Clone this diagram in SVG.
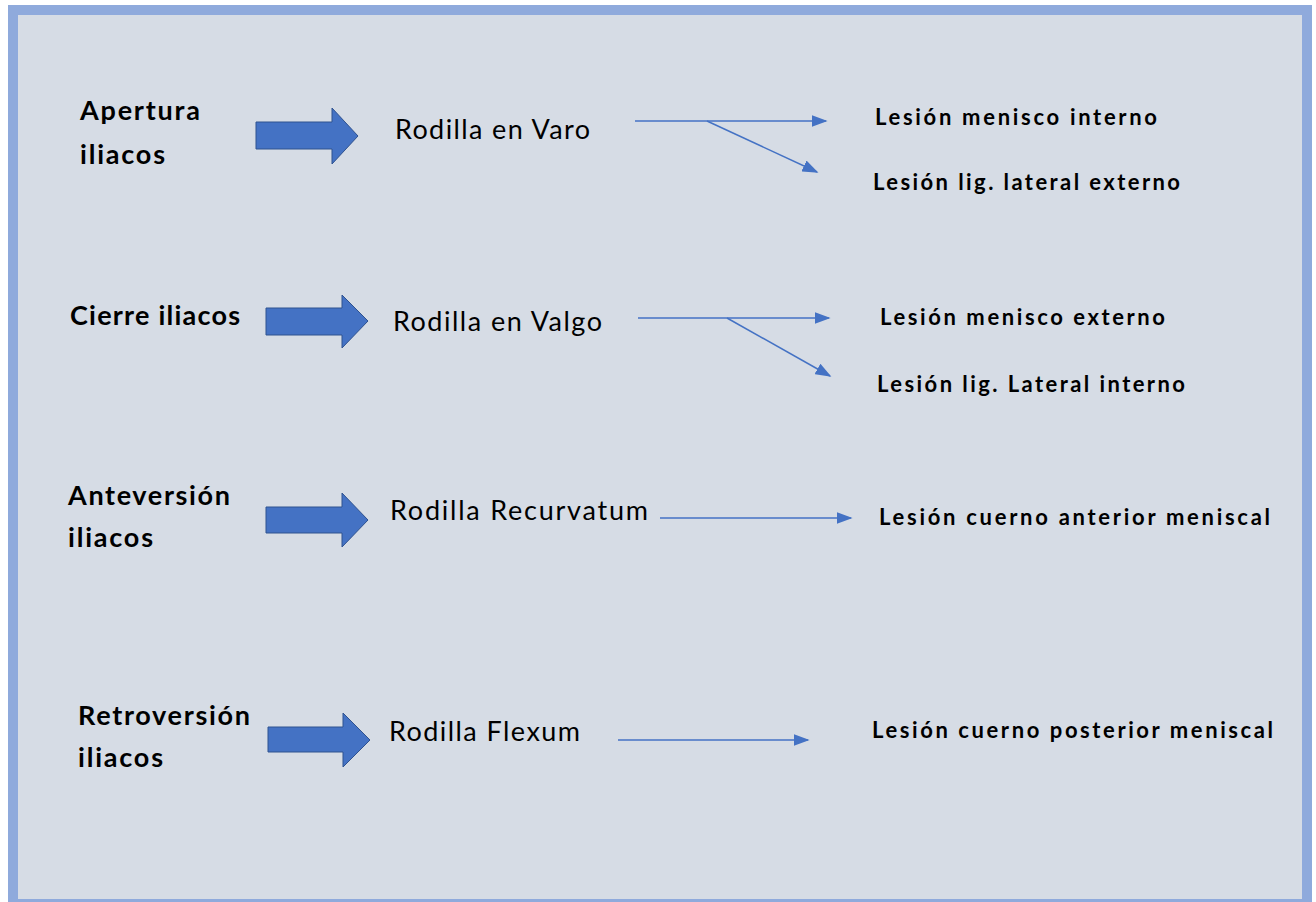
<svg xmlns="http://www.w3.org/2000/svg" width="1316" height="902" viewBox="0 0 1316 902">
<defs>
<style>
.lbl{font-family:Lato,"Liberation Sans",sans-serif;font-weight:bold;font-size:27px;fill:#000}
.mid{font-family:Lato,"Liberation Sans",sans-serif;font-size:27px;fill:#000}
.les{font-family:Lato,"Liberation Sans",sans-serif;font-weight:bold;font-size:22px;fill:#000}
.blk{fill:#4472c4;stroke:#2f528f;stroke-width:1}
.con{stroke:#4472c4;stroke-width:1.5;fill:none;marker-end:url(#ah)}
</style>
<marker id="ah" viewBox="0 0 10 10" refX="9" refY="5" markerWidth="16" markerHeight="12" markerUnits="userSpaceOnUse" orient="auto" preserveAspectRatio="none">
<path d="M0,0 L10,5 L0,10 Z" fill="#4472c4"/>
</marker>
</defs>
<rect x="13" y="10" width="1294" height="894" fill="#d6dce5" stroke="#8faadc" stroke-width="10"/>

<g id="n-apertura">
<text class="lbl" x="80" y="120" textLength="120">Apertura</text>
<text class="lbl" x="80" y="164" textLength="85">iliacos</text>
</g>
<g id="b-1"><path class="blk" d="M256,122 H332 V108 L358,136 L332,164 V149 H256 Z"/></g>
<g id="n-varo"><text class="mid" x="395" y="139" textLength="195">Rodilla en Varo</text></g>
<g id="n-mi"><text class="les" x="875" y="125" textLength="282">Lesión menisco interno</text></g>
<g id="n-lle"><text class="les" x="873" y="190" textLength="307">Lesión lig. lateral externo</text></g>

<g id="n-cierre"><text class="lbl" x="70" y="325" textLength="170">Cierre iliacos</text></g>
<g id="b-2"><path class="blk" d="M266,308 H342 V295 L368,321 L342,348 V335 H266 Z"/></g>
<g id="n-valgo"><text class="mid" x="393" y="331" textLength="209">Rodilla en Valgo</text></g>
<g id="n-me"><text class="les" x="880" y="325" textLength="285">Lesión menisco externo</text></g>
<g id="n-lli"><text class="les" x="877" y="392" textLength="308">Lesión lig. Lateral interno</text></g>

<g id="n-ante">
<text class="lbl" x="68" y="505" textLength="162">Anteversión</text>
<text class="lbl" x="68" y="547" textLength="85">iliacos</text>
</g>
<g id="b-3"><path class="blk" d="M266,507 H342 V493 L368,520 L342,547 V533 H266 Z"/></g>
<g id="n-recurv"><text class="mid" x="390" y="520" textLength="258">Rodilla Recurvatum</text></g>
<g id="n-cam"><text class="les" x="879" y="525" textLength="391">Lesión cuerno anterior meniscal</text></g>

<g id="n-retro">
<text class="lbl" x="78" y="725" textLength="172">Retroversión</text>
<text class="lbl" x="78" y="767" textLength="85">iliacos</text>
</g>
<g id="b-4"><path class="blk" d="M268,727 H343 V713 L370,740 L343,767 V752 H268 Z"/></g>
<g id="n-flexum"><text class="mid" x="389" y="741" textLength="191">Rodilla Flexum</text></g>
<g id="n-cpm"><text class="les" x="872" y="738" textLength="401">Lesión cuerno posterior meniscal</text></g>

<g id="connectors">
<path class="con" d="M635,121 H826"/>
<path class="con" d="M707,121 L817,172"/>
<path class="con" d="M638,318 H829"/>
<path class="con" d="M727,318 L830,376"/>
<path class="con" d="M660,518 H851"/>
<path class="con" d="M618,740 H808"/>
</g>
</svg>
